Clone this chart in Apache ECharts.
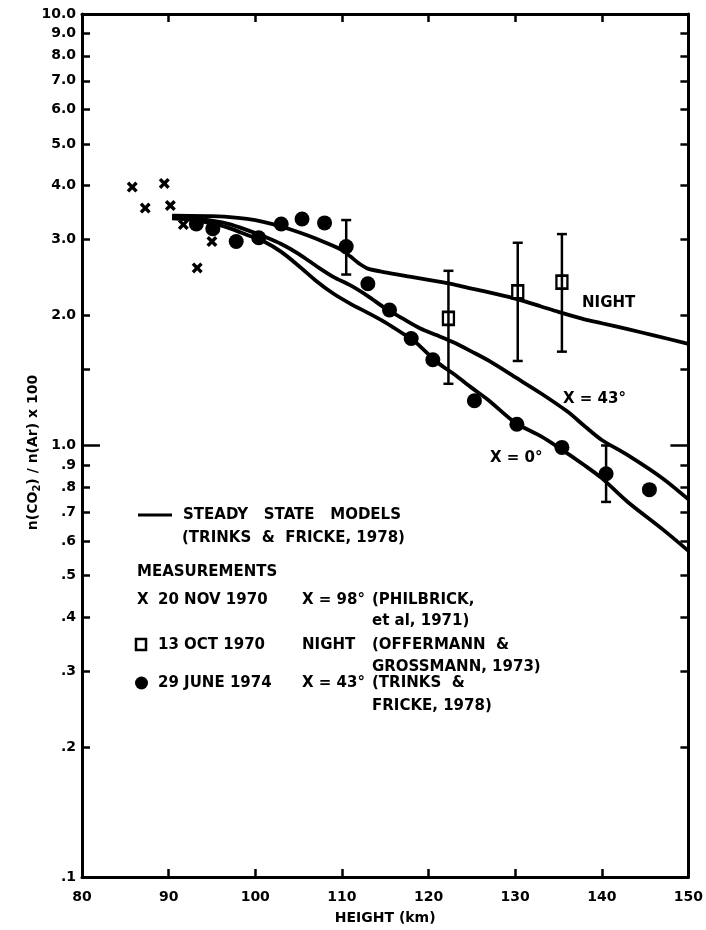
<!DOCTYPE html>
<html>
<head>
<meta charset="utf-8">
<script src="https://cdn.jsdelivr.net/npm/echarts@6/dist/echarts.min.js"></script>
<style>
  html, body { margin: 0; padding: 0; background: #fff; }
  #chart { width: 706px; height: 930px; }
</style>
</head>
<body>
<div id="chart"></div>
<script>
// Axis ticks
const xTicks = [80, 90, 100, 110, 120, 130, 140, 150];
const yTickValues = [0.1, 0.2, 0.3, 0.4, 0.5, 0.6, 0.7, 0.8, 0.9, 1, 1.5, 2, 3, 4, 5, 6, 7, 8, 9, 10];
const yTickLabels = ['.1', '.2', '.3', '.4', '.5', '.6', '.7', '.8', '.9', '1.0', '', '2.0', '3.0', '4.0', '5.0', '6.0', '7.0', '8.0', '9.0', '10.0'];
const yMajorTicks = [1];

// Steady state models (Trinks & Fricke, 1978): [height km, n(CO2)/n(Ar) x 100]
const nightModel = [[90.4,3.41],[95,3.40],[98,3.37],[100,3.33],[102,3.26],[104,3.17],[106,3.07],[108,2.96],[110,2.84],[111,2.74],[112,2.64],[113,2.57],[115,2.52],[118,2.46],[120,2.42],[123,2.36],[125,2.31],[128,2.24],[130,2.19],[133,2.10],[135,2.04],[138,1.96],[140,1.92],[143,1.86],[146,1.80],[150,1.72]];
const chi43Model = [[90.4,3.38],[93,3.36],[95,3.32],[97,3.26],[99,3.16],[101,3.05],[103,2.93],[105,2.78],[107,2.61],[109,2.46],[111,2.35],[113,2.22],[115,2.08],[117,1.97],[119,1.87],[121,1.80],[123,1.73],[125,1.65],[127,1.57],[130,1.44],[133,1.32],[136,1.20],[138,1.11],[140,1.03],[143,0.95],[147,0.84],[150,0.75]];
const chi0Model = [[90.4,3.36],[93,3.33],[95,3.27],[97,3.19],[99,3.08],[101,2.97],[103,2.81],[105,2.61],[107,2.41],[109,2.25],[111,2.13],[113,2.03],[115,1.93],[117,1.82],[118,1.77],[119,1.70],[121,1.56],[123,1.46],[125,1.36],[127,1.27],[130,1.13],[133,1.05],[135,0.99],[138,0.90],[140,0.84],[143,0.74],[147,0.64],[150,0.57]];

// Measurements
const philbrick1970 = [[85.8,3.97],[87.3,3.55],[89.5,4.05],[90.2,3.60],[91.7,3.25],[93.3,2.58],[95.0,2.97]];
const offermann1970 = [[122.3,1.97],[130.3,2.27],[135.4,2.39]];
const offermannRange = [[122.3,1.39,2.54],[130.3,1.57,2.95],[135.4,1.65,3.09]];
const trinks1974 = [[93.2,3.26],[95.1,3.18],[97.8,2.97],[100.4,3.03],[103.0,3.26],[105.4,3.35],[108.0,3.28],[110.5,2.89],[113.0,2.37],[115.5,2.06],[118.0,1.77],[120.5,1.58],[125.3,1.27],[130.2,1.12],[135.4,0.99],[140.5,0.86],[145.5,0.79]];
const trinksRange = [[110.5,2.49,3.33],[140.5,0.74,1.00]];

const FONT = 'DejaVu Sans';
const INK = '#000';
const crossPath = 'path://M0,2.2L2.2,0L5,2.8L7.8,0L10,2.2L7.2,5L10,7.8L7.8,10L5,7.2L2.2,10L0,7.8L2.8,5Z';

function yLabel(v) {
  const i = yTickValues.findIndex(t => Math.abs(t - v) < t * 1e-3);
  return i >= 0 ? yTickLabels[i] : '';
}

function renderErrorBar(params, api) {
  const x = api.value(0);
  const lo = api.coord([x, api.value(1)]);
  const hi = api.coord([x, api.value(2)]);
  const cap = 5;
  const style = { stroke: INK, lineWidth: 2.5 };
  return {
    type: 'group',
    children: [
      { type: 'line', shape: { x1: lo[0], y1: lo[1], x2: hi[0], y2: hi[1] }, style },
      { type: 'line', shape: { x1: lo[0] - cap, y1: lo[1], x2: lo[0] + cap, y2: lo[1] }, style },
      { type: 'line', shape: { x1: hi[0] - cap, y1: hi[1], x2: hi[0] + cap, y2: hi[1] }, style }
    ]
  };
}

const axisLine = { show: true, lineStyle: { color: INK, width: 3 } };
const labelFont = { fontFamily: FONT, fontWeight: 'bold', fontSize: 14, color: INK };

function yAxisDef(position, ticks, len, withLabels, withLine) {
  return {
    type: 'log', logBase: 10, min: 0.1, max: 10, position,
    axisLine: withLine ? axisLine : { show: false },
    splitLine: { show: false },
    axisTick: { show: true, inside: true, length: len, customValues: ticks, lineStyle: { color: INK, width: 2.5 } },
    axisLabel: withLabels
      ? Object.assign({ show: true, customValues: yTickValues, formatter: yLabel, margin: 6 }, labelFont)
      : { show: false }
  };
}

const chart = echarts.init(document.getElementById('chart'), null, { renderer: 'canvas' });

const legendText = (text, x, y) => ({
  type: 'text', x, y,
  style: { text, fill: INK, font: 'bold 15px "' + FONT + '"', verticalAlign: 'middle', align: 'left' }
});

chart.setOption({
  backgroundColor: '#fff',
  animation: false,
  grid: { left: 82, right: 13, top: 14, bottom: 48 },
  xAxis: [
    {
      type: 'value', min: 80, max: 150, interval: 10, position: 'bottom',
      name: 'HEIGHT (km)', nameLocation: 'middle', nameGap: 34, nameMoveOverlap: false,
      nameTextStyle: { fontFamily: FONT, fontWeight: 'bold', fontSize: 14, color: INK },
      axisLine, splitLine: { show: false },
      axisTick: { show: true, inside: true, length: 8, customValues: xTicks, lineStyle: { color: INK, width: 2.5 } },
      axisLabel: Object.assign({ customValues: xTicks, margin: 13 }, labelFont)
    },
    {
      type: 'value', min: 80, max: 150, interval: 10, position: 'top',
      axisLine, splitLine: { show: false },
      axisTick: { show: true, inside: true, length: 8, customValues: xTicks, lineStyle: { color: INK, width: 2.5 } },
      axisLabel: { show: false }
    }
  ],
  yAxis: [
    Object.assign(yAxisDef('left', yTickValues, 8, true, true), {
      name: 'n(CO{s|2}) / n(Ar) x 100', nameLocation: 'middle', nameGap: 40, nameMoveOverlap: false,
      nameTextStyle: {
        fontFamily: FONT, fontWeight: 'bold', fontSize: 14, color: INK, padding: [0, 14, 0, 0],
        rich: { s: { fontFamily: FONT, fontWeight: 'bold', fontSize: 10, color: INK, padding: [8, 0, 0, 0] } }
      }
    }),
    yAxisDef('right', yTickValues, 8, false, true),
    yAxisDef('left', yMajorTicks, 18, false, false),
    yAxisDef('right', yMajorTicks, 18, false, false)
  ],
  series: [
    {
      name: 'NIGHT', type: 'line', data: nightModel, smooth: 0.3, showSymbol: false,
      lineStyle: { color: INK, width: 3.8 }, z: 3
    },
    {
      name: 'X = 43°', type: 'line', data: chi43Model, smooth: 0.3, showSymbol: false,
      lineStyle: { color: INK, width: 3.8 }, z: 3
    },
    {
      name: 'X = 0°', type: 'line', data: chi0Model, smooth: 0.3, showSymbol: false,
      lineStyle: { color: INK, width: 3.8 }, z: 3
    },
    {
      name: '20 NOV 1970', type: 'scatter', data: philbrick1970, symbol: crossPath, symbolSize: [11, 11],
      itemStyle: { color: INK, opacity: 1 }, z: 4
    },
    {
      name: '29 JUNE 1974', type: 'scatter', data: trinks1974, symbol: 'circle', symbolSize: 15,
      itemStyle: { color: INK, opacity: 1 }, z: 4
    },
    {
      name: '13 OCT 1970', type: 'scatter', data: offermann1970, symbol: 'rect', symbolSize: [11, 13],
      itemStyle: { color: '#fff', borderColor: INK, borderWidth: 2.5, opacity: 1 }, z: 4
    },
    {
      type: 'custom', data: offermannRange, renderItem: renderErrorBar,
      encode: { x: 0, y: [1, 2] }, z: 5
    },
    {
      type: 'custom', data: trinksRange, renderItem: renderErrorBar,
      encode: { x: 0, y: [1, 2] }, z: 5
    }
  ],
  graphic: [
    // curve labels
    legendText('NIGHT', 582, 303),
    legendText('X = 43°', 563, 399),
    legendText('X = 0°', 490, 458),
    // key
    { type: 'line', shape: { x1: 138, y1: 515, x2: 172, y2: 515 }, style: { stroke: INK, lineWidth: 3 } },
    legendText('STEADY   STATE   MODELS', 183, 515),
    legendText('(TRINKS  &  FRICKE, 1978)', 182, 538),
    legendText('MEASUREMENTS', 137, 572),
    legendText('X', 137, 600),
    legendText('20 NOV 1970', 158, 600),
    legendText('X = 98°', 302, 600),
    legendText('(PHILBRICK,', 372, 600),
    legendText('et al, 1971)', 372, 621),
    { type: 'rect', shape: { x: 136, y: 639, width: 10, height: 11 }, style: { fill: '#fff', stroke: INK, lineWidth: 2.5 } },
    legendText('13 OCT 1970', 158, 645),
    legendText('NIGHT', 302, 645),
    legendText('(OFFERMANN  &', 372, 645),
    legendText('GROSSMANN, 1973)', 372, 667),
    { type: 'circle', shape: { cx: 141.5, cy: 683, r: 6.5 }, style: { fill: INK } },
    legendText('29 JUNE 1974', 158, 683),
    legendText('X = 43°', 302, 683),
    legendText('(TRINKS  &', 372, 683),
    legendText('FRICKE, 1978)', 372, 706)
  ]
});
</script>
</body>
</html>
